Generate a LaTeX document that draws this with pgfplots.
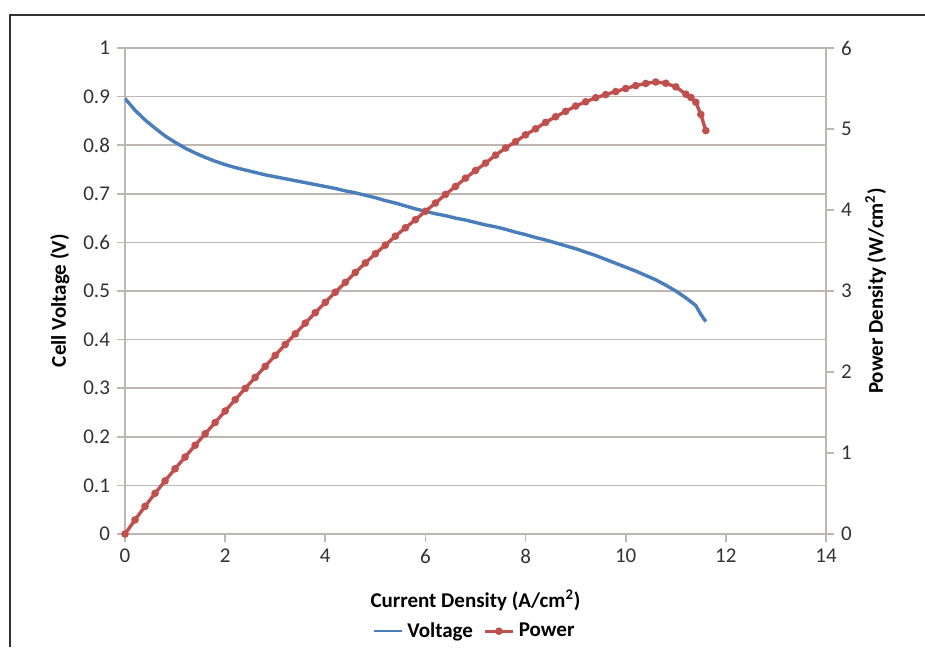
\documentclass[border=0pt]{standalone}
\usepackage{fontspec}
\setmainfont{Carlito}
\usepackage{pgfplots}
\pgfplotsset{compat=1.18}

\definecolor{vblue}{RGB}{74,126,187}
\definecolor{pred}{RGB}{192,80,77}
\definecolor{gridgray}{RGB}{190,182,178}
\definecolor{txtgray}{RGB}{50,50,50}

\pgfplotstableread{
x V
0.0 0.896
0.2 0.872
0.4 0.852
0.6 0.835
0.8 0.819
1.0 0.806
1.2 0.794
1.4 0.784
1.6 0.775
1.8 0.767
2.0 0.760
2.2 0.754
2.4 0.749
2.6 0.744
2.8 0.739
3.0 0.735
3.2 0.731
3.4 0.727
3.6 0.723
3.8 0.719
4.0 0.715
4.2 0.711
4.4 0.706
4.6 0.702
4.8 0.697
5.0 0.692
5.2 0.686
5.4 0.681
5.6 0.675
5.8 0.669
6.0 0.664
6.2 0.659
6.4 0.655
6.6 0.650
6.8 0.646
7.0 0.641
7.2 0.636
7.4 0.632
7.6 0.627
7.8 0.621
8.0 0.616
8.2 0.610
8.4 0.605
8.6 0.599
8.8 0.593
9.0 0.587
9.2 0.580
9.4 0.573
9.6 0.565
9.8 0.557
10.0 0.549
10.2 0.541
10.4 0.532
10.6 0.523
10.8 0.512
11.0 0.500
11.2 0.486
11.3 0.478
11.4 0.470
11.5 0.452
11.6 0.437
}\voltage

\pgfplotstableread{
x P
0.0 0.000
0.2 0.174
0.4 0.341
0.6 0.502
0.8 0.656
1.0 0.805
1.2 0.950
1.4 1.095
1.6 1.237
1.8 1.376
2.0 1.518
2.2 1.658
2.4 1.796
2.6 1.934
2.8 2.069
3.0 2.205
3.2 2.339
3.4 2.471
3.6 2.603
3.8 2.732
4.0 2.860
4.2 2.985
4.4 3.106
4.6 3.229
4.8 3.346
5.0 3.460
5.2 3.567
5.4 3.677
5.6 3.780
5.8 3.880
6.0 3.984
6.2 4.086
6.4 4.192
6.6 4.290
6.8 4.393
7.0 4.487
7.2 4.579
7.4 4.677
7.6 4.765
7.8 4.844
8.0 4.928
8.2 5.002
8.4 5.082
8.6 5.151
8.8 5.218
9.0 5.283
9.2 5.336
9.4 5.386
9.6 5.424
9.8 5.462
10.0 5.500
10.2 5.535
10.4 5.562
10.6 5.580
10.8 5.565
11.0 5.520
11.2 5.430
11.3 5.390
11.4 5.330
11.5 5.180
11.6 4.980
}\power

\begin{document}
\begin{tikzpicture}
% page = 925 x 647 px at 0.5pt per px, axis origin at px (125,534)
\useasboundingbox (-62.5pt,-56.5pt) rectangle (400pt,267pt);
\draw[line width=0.8pt, black!80] (-57.5pt,-56.5pt) -- (-57.5pt,259.5pt) -- (400pt,259.5pt);

\pgfplotsset{
  every axis/.append style={
    scale only axis, width=350.5pt, height=243pt,
    at={(0,0)}, anchor=south west,
    xmin=0, xmax=14,
    /pgf/number format/assume math mode=true,
    tick label style={font=\fontsize{10.5}{12}\selectfont, text=txtgray},
    label style={font=\bfseries\fontsize{10.5}{12}\selectfont},
    tick style={gridgray, line width=0.8pt},
    major tick length=4pt,
    tick align=outside,
  }
}

\begin{axis}[
  axis x line*=bottom, axis y line*=left,
  axis line style={gridgray, line width=0.8pt, -},
  ymin=0, ymax=1,
  xtick={0,2,...,14},
  ytick={0,0.1,...,1.0},
  yticklabels={0,0.1,0.2,0.3,0.4,0.5,0.6,0.7,0.8,0.9,1},
  ymajorgrids, grid style={gridgray, line width=0.8pt},
  xlabel={Current Density (A/cm\textsuperscript{2})},
  xlabel style={at={(axis description cs:0.5,-0.136)}, anchor=center},
  ylabel={Cell Voltage (V)},
  ylabel style={at={(axis description cs:-0.093,0.48)}, anchor=center},
]
\addplot[vblue, line width=1.7pt] table[x=x, y=V] {\voltage};
\end{axis}

\begin{axis}[
  axis x line=none, axis y line*=right,
  axis line style={gridgray, line width=0.8pt, -},
  ymin=0, ymax=6,
  ytick={0,1,...,6},
  ylabel={Power Density (W/cm\textsuperscript{2})},
  ylabel style={at={(axis description cs:1.071,0.50)}, anchor=center, rotate=0},
  legend style={at={(0.5,-0.2)}, anchor=center, draw=none, fill=none,
    font=\bfseries\fontsize{10.5}{12}\selectfont, legend columns=2,
    /tikz/every even column/.append style={column sep=3pt}},
  legend image code/.code={
    \draw[mark repeat=2,mark phase=2] plot coordinates {(0cm,0cm) (0.25cm,0cm) (0.5cm,0cm)};},
]
\addlegendimage{vblue, line width=1.2pt}
\addlegendentry{Voltage}
\addplot[pred, line width=1.7pt, mark=*, mark size=1.0pt] table[x=x, y=P] {\power};
\addlegendentry{Power}
\end{axis}
\end{tikzpicture}
\end{document}
